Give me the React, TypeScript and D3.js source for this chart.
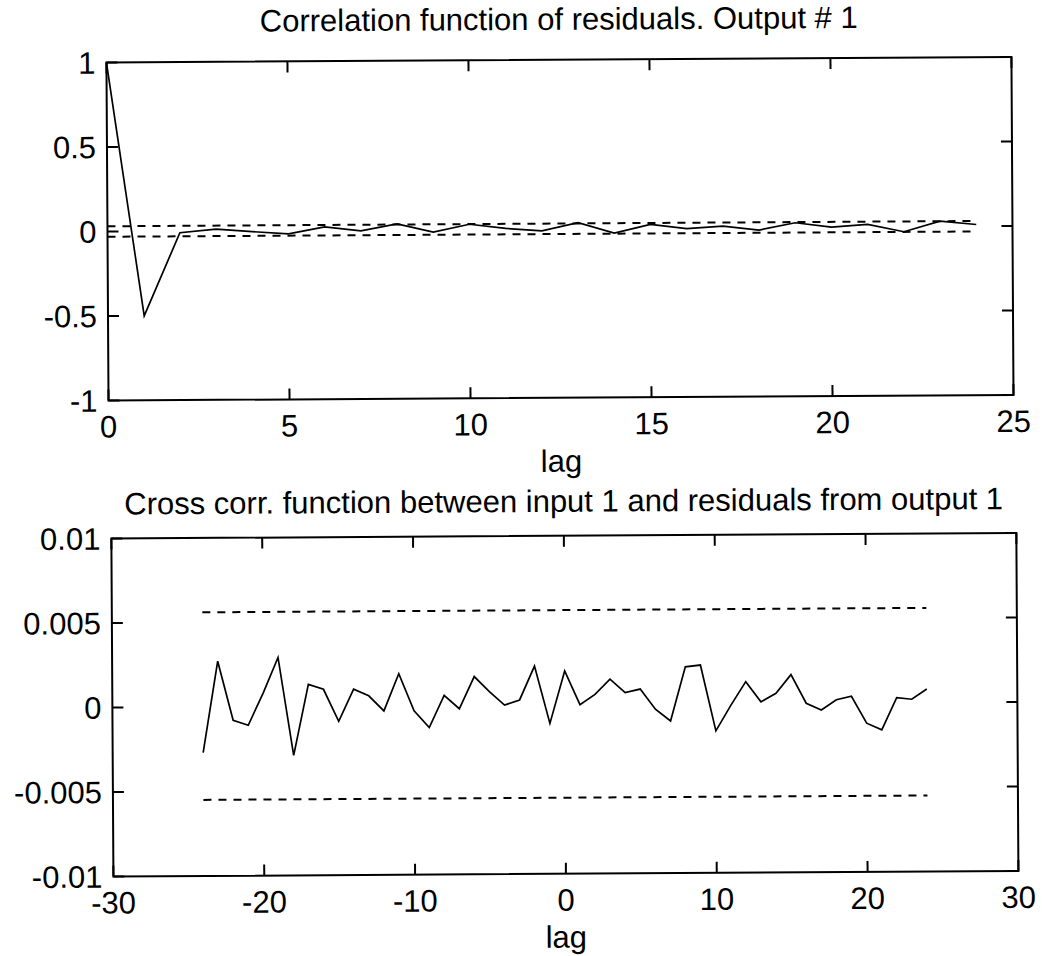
import React from "react";
import * as d3 from "d3";

// ---------- data ----------
const acfLags = d3.range(0, 25);
const acfValues = [
  1, -0.5, -0.01, 0.01, -0.006, -0.02, 0.02, -0.005, 0.035, -0.015, 0.03, 0.004,
  -0.012, 0.035, -0.028, 0.023, -0.004, 0.01, -0.015, 0.027, 0, 0.015, -0.03, 0.031, 0.01,
];
const acfConfUpper = 0.031;
const acfConfLower = -0.031;

const ccfLags = d3.range(-24, 25);
const ccfValues = [
  -0.0027, 0.0027, -0.0008, -0.0011, 0.0008, 0.0029, -0.0029, 0.0013, 0.001, -0.0009,
  0.001, 0.0006, -0.0003, 0.0019, -0.0003, -0.0013, 0.0006, -0.0002, 0.0017, 0.0008,
  0.0, 0.0003, 0.0023, -0.0011, 0.002, 0.0, 0.0006, 0.0015, 0.0007, 0.0009,
  -0.0003, -0.001, 0.0022, 0.0023, -0.0016, -0.0001, 0.0013, 0.0001, 0.0006, 0.0017,
  0.0, -0.0004, 0.0002, 0.0004, -0.0012, -0.0016, 0.0003, 0.0002, 0.0008,
];
const ccfConfUpper = 0.0056;
const ccfConfLower = -0.0055;

const topXTicks = [0, 5, 10, 15, 20, 25];
const topXTickLabels = ["0", "5", "10", "15", "20", "25"];
const topYTicks = [-1, -0.5, 0, 0.5, 1];
const topYTickLabels = ["-1", "-0.5", "0", "0.5", "1"];
const botXTicks = [-30, -20, -10, 0, 10, 20, 30];
const botXTickLabels = ["-30", "-20", "-10", "0", "10", "20", "30"];
const botYTicks = [-0.01, -0.005, 0, 0.005, 0.01];
const botYTickLabels = ["-0.01", "-0.005", "0", "0.005", "0.01"];

const topTitle = "Correlation function of residuals. Output # 1";
const botTitle = "Cross corr. function between input 1 and residuals from output 1";
const xLabel = "lag";

// ---------- layout ----------
const W = 1042;
const H = 956;
const FONT = "'Liberation Sans', Arial, Helvetica, sans-serif";
const FS = 31;

type PanelProps = {
  left: number; right: number; top: number; bottom: number;
  xDomain: [number, number]; yDomain: [number, number];
  xTicks: number[]; xTickLabels: string[];
  yTicks: number[]; yTickLabels: string[];
  lags: number[]; values: number[];
  confUpper: number; confLower: number;
  title: string; titleY: number;
};

function Panel(p: PanelProps) {
  const x = d3.scaleLinear().domain(p.xDomain).range([p.left, p.right]);
  const y = d3.scaleLinear().domain(p.yDomain).range([p.bottom, p.top]);
  const pts = p.lags.map((l, i) => [l, p.values[i]] as [number, number]);
  const line = d3.line<[number, number]>().x((d) => x(d[0])).y((d) => y(d[1]));
  const l0 = p.lags[0];
  const l1 = p.lags[p.lags.length - 1];
  const tickLen = 11;
  return (
    <g>
      <text x={(p.left + p.right) / 2} y={p.titleY} textAnchor="middle" fontFamily={FONT} fontSize={FS} fill="#000">
        {p.title}
      </text>
      {/* dashed confidence lines */}
      <line x1={x(l0)} x2={x(l1)} y1={y(p.confUpper)} y2={y(p.confUpper)} stroke="#000" strokeWidth={2} strokeDasharray="8,7" />
      <line x1={x(l0)} x2={x(l1)} y1={y(p.confLower)} y2={y(p.confLower)} stroke="#000" strokeWidth={2} strokeDasharray="8,7" />
      <path d={line(pts) || ""} fill="none" stroke="#000" strokeWidth={1.7} strokeLinejoin="miter" />
      {/* box */}
      <rect x={p.left} y={p.top} width={p.right - p.left} height={p.bottom - p.top} fill="none" stroke="#000" strokeWidth={2} />
      {p.xTicks.map((t, i) => (
        <g key={"x" + i}>
          <line x1={x(t)} x2={x(t)} y1={p.bottom} y2={p.bottom - tickLen} stroke="#000" strokeWidth={2} />
          <line x1={x(t)} x2={x(t)} y1={p.top} y2={p.top + tickLen} stroke="#000" strokeWidth={2} />
          <text x={x(t)} y={p.bottom + 37} textAnchor="middle" fontFamily={FONT} fontSize={FS} fill="#000">
            {p.xTickLabels[i]}
          </text>
        </g>
      ))}
      {p.yTicks.map((t, i) => (
        <g key={"y" + i}>
          <line x1={p.left} x2={p.left + tickLen} y1={y(t)} y2={y(t)} stroke="#000" strokeWidth={2} />
          <line x1={p.right} x2={p.right - tickLen} y1={y(t)} y2={y(t)} stroke="#000" strokeWidth={2} />
          <text x={p.left - 11} y={y(t) + 11} textAnchor="end" fontFamily={FONT} fontSize={FS} fill="#000">
            {p.yTickLabels[i]}
          </text>
        </g>
      ))}
      <text x={(p.left + p.right) / 2} y={p.bottom + 74} textAnchor="middle" fontFamily={FONT} fontSize={FS} fill="#000">
        {xLabel}
      </text>
    </g>
  );
}

export default function App() {
  return (
    <svg width={W} height={H} viewBox={`0 0 ${W} ${H}`} style={{ position: "absolute", left: 0, top: 0, background: "#fff" }}>
      <rect x={0} y={0} width={W} height={H} fill="#fff" />
      <g transform="rotate(-0.35 521 478)">
        <Panel
          left={109} right={1014} top={60} bottom={398}
          xDomain={[0, 25]} yDomain={[-1, 1]}
          xTicks={topXTicks} xTickLabels={topXTickLabels}
          yTicks={topYTicks} yTickLabels={topYTickLabels}
          lags={acfLags} values={acfValues}
          confUpper={acfConfUpper} confLower={acfConfLower}
          title={topTitle} titleY={30}
        />
        <Panel
          left={111} right={1016} top={536} bottom={874}
          xDomain={[-30, 30]} yDomain={[-0.01, 0.01]}
          xTicks={botXTicks} xTickLabels={botXTickLabels}
          yTicks={botYTicks} yTickLabels={botYTickLabels}
          lags={ccfLags} values={ccfValues}
          confUpper={ccfConfUpper} confLower={ccfConfLower}
          title={botTitle} titleY={512}
        />
      </g>
    </svg>
  );
}
